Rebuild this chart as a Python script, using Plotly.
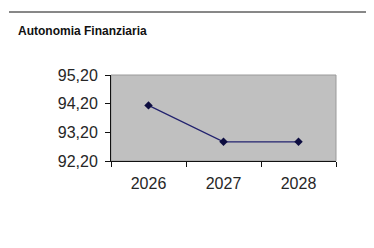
import plotly.graph_objects as go

years = ["2026", "2027", "2028"]
values = [94.14, 92.87, 92.87]
y_ticks = [92.2, 93.2, 94.2, 95.2]

# page body has an 8px default margin; figure is sized/placed to compensate
OFF = 8
W, H = 374 - OFF, 248 - OFF
L, T = 111 - OFF, 75 - OFF
R, B = W - (336 - OFF), H - (161 - OFF)
pw, ph = W - L - R, H - T - B

fig = go.Figure()
fig.add_trace(go.Scatter(
    x=years, y=values, mode="lines+markers",
    line=dict(color="#22226e", width=1.2),
    marker=dict(symbol="diamond", size=6.5, color="#0d0d40"),
    showlegend=False, hoverinfo="skip",
))

fig.update_layout(
    width=W, height=H,
    margin=dict(l=L, r=R, t=T, b=B, pad=0),
    paper_bgcolor="white", plot_bgcolor="#c0c0c0",
    separators=",.",
    font=dict(family="Liberation Sans, Arial, sans-serif", size=16, color="#262626"),
    title=dict(text="<b>Autonomia Finanziaria</b>", xref="container", yref="container",
               x=(18 - OFF) / W, xanchor="left", y=1 - (31 - OFF) / H, yanchor="middle",
               font=dict(size=12, color="#111111")),
    xaxis=dict(type="category", range=[-0.5, 2.5], showgrid=False, zeroline=False,
               showline=True, linecolor="#111111", linewidth=1,
               ticks="outside", ticklen=5, tickcolor="#111111", tickson="boundaries",
               ticklabelstandoff=8, fixedrange=True),
    yaxis=dict(range=[92.2, 95.2], tickvals=y_ticks, tickformat=".2f", showgrid=False,
               zeroline=False, showline=True, linecolor="#111111", linewidth=1,
               ticks="outside", ticklen=5, tickcolor="#111111",
               ticklabelstandoff=4, fixedrange=True),
    shapes=[
        dict(type="rect", xref="paper", yref="paper", x0=0, x1=1, y0=0, y1=1,
             line=dict(color="#9a9a9a", width=1), layer="below"),
        dict(type="line", xref="paper", yref="paper",
             x0=(9 - OFF - L) / pw, x1=(W - L) / pw,
             y0=1 + (T - (12 - OFF)) / ph, y1=1 + (T - (12 - OFF)) / ph,
             line=dict(color="#111111", width=1)),
    ],
)

fig.write_html("out.html", config={"displayModeBar": False})
